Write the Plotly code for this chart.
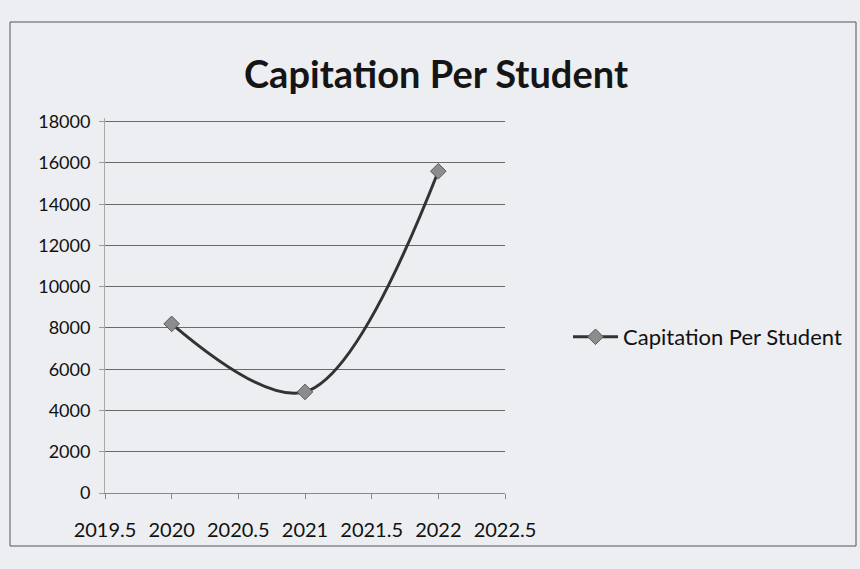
import plotly.graph_objects as go

years = [2020, 2021, 2022]
capitation = [8200, 4900, 15600]
series_name = "Capitation Per Student"
title_text = "Capitation Per Student"
y_ticks = [0, 2000, 4000, 6000, 8000, 10000, 12000, 14000, 16000, 18000]
x_ticks = [2019.5, 2020, 2020.5, 2021, 2021.5, 2022, 2022.5]

W, H = 860, 569
L, R, T, B = 105, 505, 118, 493

fig = go.Figure()
fig.add_trace(go.Scatter(
    x=years, y=capitation, name=series_name, mode="lines+markers",
    line=dict(color="#333333", width=3, shape="spline", smoothing=1.0),
    marker=dict(symbol="diamond", size=12, color="#8c8c8c", line=dict(color="#5a5a5a", width=1)),
))

font_family = "Lato, Open Sans, sans-serif"
fig.update_layout(
    width=W, height=H,
    margin=dict(l=L, r=W - R, t=T, b=H - B),
    paper_bgcolor="#eceef1", plot_bgcolor="#eceef1",
    font=dict(family=font_family, color="#111111", size=18),
    title=dict(text="<b>" + title_text + "</b>", x=436 / W, xanchor="center",
               xref="container", y=1 - 75 / H, yref="container", yanchor="middle",
               font=dict(size=38, family=font_family, color="#151515")),
    showlegend=True,
    legend=dict(x=(568 - L) / (R - L), y=(B - 337) / (B - T), xanchor="left", yanchor="middle",
                bgcolor="rgba(0,0,0,0)", font=dict(size=22), itemwidth=45),
    xaxis=dict(range=[2019.5, 2022.5], tickvals=x_ticks, ticktext=[str(v) for v in x_ticks],
               showgrid=False, zeroline=False, showline=True, linecolor="#888", linewidth=1,
               ticks="outside", ticklen=5, tickcolor="#888", ticklabelstandoff=14,
               tickfont=dict(size=20)),
    yaxis=dict(range=[0, 18180], tickvals=y_ticks, ticktext=[str(v) for v in y_ticks],
               showgrid=True, gridcolor="#6a6a6a",
               gridwidth=1, zeroline=False, showline=True, linecolor="#aaa", linewidth=1,
               ticks="outside", ticklen=5, tickcolor="#999", ticklabelstandoff=5,
               tickfont=dict(size=18)),
    shapes=[dict(type="rect", xref="paper", yref="paper",
                 x0=(10 - L) / (R - L), x1=(856 - L) / (R - L),
                 y0=(B - 546) / (B - T), y1=(B - 22) / (B - T),
                 line=dict(color="#555", width=1), fillcolor="rgba(0,0,0,0)", layer="below")],
)

fig.write_html("out.html")
